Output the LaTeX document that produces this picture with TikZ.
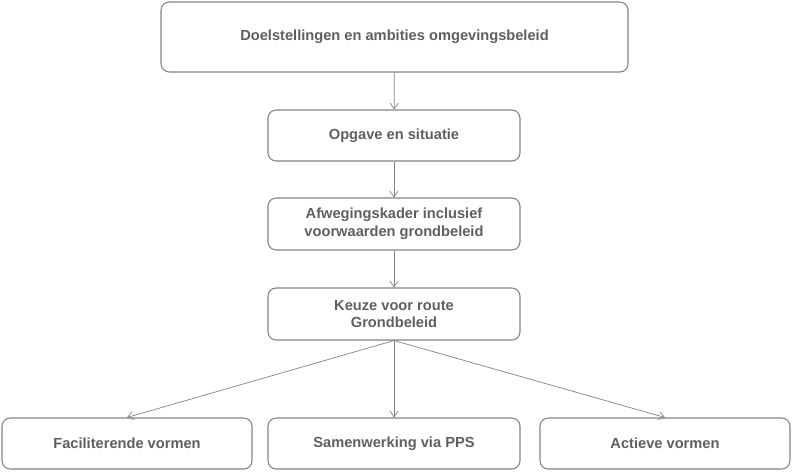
\documentclass[tikz,border=0pt]{standalone}
\usepackage{fontspec}
\setmainfont{Liberation Sans}
\usetikzlibrary{arrows.meta,positioning}
\definecolor{txtgray}{RGB}{95,95,95}
\definecolor{linegray}{RGB}{130,130,130}
\tikzset{
  stepbox/.style={draw=linegray, line width=0.9pt, rounded corners=7pt, align=center,
    text=txtgray, font=\fontsize{12.5}{15}\selectfont\bfseries, inner sep=2pt},
  flow/.style={-{Straight Barb[length=5pt,width=7pt]}, draw=linegray, line width=0.6pt}
}
\begin{document}
\begin{tikzpicture}[x=0.03cm,y=-0.03cm]
  \useasboundingbox (0,0) rectangle (793,473);
  % main chain
  \node[stepbox, minimum width=467*0.03cm, minimum height=70*0.03cm] (doel) at (394.5,37) {Doelstellingen en ambities omgevingsbeleid};
  \node[stepbox, minimum width=252*0.03cm, minimum height=51*0.03cm] (opgave) at (394,135.5) {Opgave en situatie};
  \node[stepbox, minimum width=252*0.03cm, minimum height=52*0.03cm] (kader) at (394,224) {Afwegingskader inclusief\\voorwaarden grondbeleid};
  \node[stepbox, minimum width=252*0.03cm, minimum height=52*0.03cm] (keuze) at (394,314) {Keuze voor route\\Grondbeleid};
  % routes
  \node[stepbox, minimum width=250*0.03cm, minimum height=51*0.03cm] (facil) at (127,443.5) {Faciliterende vormen};
  \node[stepbox, minimum width=252*0.03cm, minimum height=51*0.03cm] (pps) at (394,443.5) {Samenwerking via PPS};
  \node[stepbox, minimum width=250*0.03cm, minimum height=51*0.03cm] (actief) at (665,443.5) {Actieve vormen};
  \draw[flow] (doel) -- (opgave);
  \draw[flow] (opgave) -- (kader);
  \draw[flow] (kader) -- (keuze);
  \draw[flow] (keuze.south) -- (facil.north);
  \draw[flow] (keuze.south) -- (pps.north);
  \draw[flow] (keuze.south) -- (actief.north);
\end{tikzpicture}
\end{document}
